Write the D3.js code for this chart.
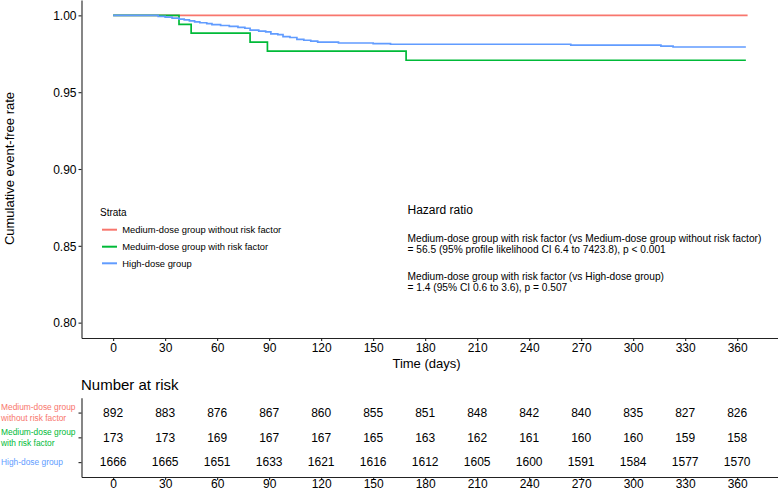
<!DOCTYPE html>
<html>
<head>
<meta charset="utf-8">
<script src="https://cdn.jsdelivr.net/npm/d3@7"></script>
<style>
  html, body { margin: 0; padding: 0; background: #fff; }
  svg { display: block; font-family: "Liberation Sans", Arial, Helvetica, sans-serif; }
</style>
</head>
<body>
<svg id="chart" width="778" height="491"></svg>
<script>
// ---------- DATA ----------
const timeTicks = [0, 30, 60, 90, 120, 150, 180, 210, 240, 270, 300, 330, 360];
const yTicks = [0.80, 0.85, 0.90, 0.95, 1.00];

const strataNames = ["Medium-dose group without risk factor", "Meduim-dose group with risk factor", "High-dose group"];
const strataColors = ["#F8766D", "#00BA38", "#619CFF"];

// Kaplan-Meier step curves (time in days, survival)
const redTimes = [0, 366];
const redSurv = [1.0, 1.0];

const greenTimes = [0, 38, 45, 79, 89, 169, 365];
const greenSurv = [1.0, 0.9942, 0.9884, 0.9826, 0.9767, 0.9708, 0.9708];

const blueTimes = [0, 26, 30, 34, 38, 41, 44, 47, 50, 54, 57, 62, 67, 72, 76, 79, 84, 88, 91, 95, 98, 102, 106, 110, 114, 118, 130, 150, 160, 264, 316, 323, 365];
const blueSurv = [1.0, 0.9994, 0.9988, 0.9982, 0.9976, 0.9970, 0.9964, 0.9958, 0.9952, 0.9946, 0.9940, 0.9934, 0.9928, 0.9922, 0.9916, 0.9904, 0.9898, 0.9892, 0.9880, 0.9874, 0.9862, 0.9856, 0.9844, 0.9838, 0.9832, 0.9826, 0.9820, 0.9816, 0.9812, 0.9806, 0.9800, 0.9794, 0.9794];

// Number at risk
const riskGroups = ["Medium-dose group without risk factor", "Medium-dose group with risk factor", "High-dose group"];
const riskLabelLines = [["Medium-dose group", "without risk factor"], ["Medium-dose group", "with risk factor"], ["High-dose group"]];
const riskMedNoRF = [892, 883, 876, 867, 860, 855, 851, 848, 842, 840, 835, 827, 826];
const riskMedRF = [173, 173, 169, 167, 167, 165, 163, 162, 161, 160, 160, 159, 158];
const riskHigh = [1666, 1665, 1651, 1633, 1621, 1616, 1612, 1605, 1600, 1591, 1584, 1577, 1570];

const hrTitle = "Hazard ratio";
const hrLines1 = ["Medium-dose group with risk factor (vs Medium-dose group without risk factor)", "= 56.5 (95% profile likelihood CI 6.4 to 7423.8), p < 0.001"];
const hrLines2 = ["Medium-dose group with risk factor (vs High-dose group)", "= 1.4 (95% CI 0.6 to 3.6), p = 0.507"];

// ---------- DRAW ----------
const svg = d3.select("#chart");
const axisColor = "#222";

const x = d3.scaleLinear().domain([-18.25, 383.25]).range([81.5, 777.5]);
const y = d3.scaleLinear().domain([0.79, 1.01]).range([338, 0]);

// curves
const curves = [
  {t: redTimes, s: redSurv, c: strataColors[0]},
  {t: greenTimes, s: greenSurv, c: strataColors[1]},
  {t: blueTimes, s: blueSurv, c: strataColors[2]}
];
const line = d3.line().x(d => x(d[0])).y(d => y(d[1])).curve(d3.curveStepAfter);
curves.forEach(cv => {
  const pts = cv.t.map((t, i) => [t, cv.s[i]]);
  svg.append("path").attr("d", line(pts)).attr("fill", "none")
    .attr("stroke", cv.c).attr("stroke-width", 1.7);
});

// main axes
function styleAxis(g, fs) {
  g.selectAll("path.domain").attr("stroke", axisColor).attr("stroke-width", 1.1);
  g.selectAll(".tick line").attr("stroke", axisColor).attr("stroke-width", 1.1);
  g.selectAll(".tick text").attr("fill", "#000").style("font-size", fs + "px");
}
const gy = svg.append("g").attr("transform", "translate(81.5,0)")
  .call(d3.axisLeft(y).tickValues(yTicks).tickFormat(d3.format(".2f")).tickSize(3).tickSizeOuter(0).tickPadding(2));
styleAxis(gy, 12);
gy.selectAll(".tick text").attr("dy", "0.36em");

const gx = svg.append("g").attr("transform", "translate(0,338)")
  .call(d3.axisBottom(x).tickValues(timeTicks).tickSize(3).tickSizeOuter(0).tickPadding(2));
styleAxis(gx, 12);

// axis titles
svg.append("text").attr("transform", "translate(14,168.5) rotate(-90)")
  .attr("text-anchor", "middle").style("font-size", "13px").text("Cumulative event-free rate");
svg.append("text").attr("x", 426.5).attr("y", 367.7)
  .attr("text-anchor", "middle").style("font-size", "13px").text("Time (days)");

// legend
svg.append("text").attr("x", 100).attr("y", 216).style("font-size", "10px").text("Strata");
const legY = [229.7, 246.7, 263.3];
strataNames.forEach((n, i) => {
  svg.append("line").attr("x1", 102).attr("x2", 117).attr("y1", legY[i]).attr("y2", legY[i])
    .attr("stroke", strataColors[i]).attr("stroke-width", 2);
  svg.append("text").attr("x", 122.3).attr("y", legY[i] + 3.4).style("font-size", "9.4px").text(n);
});

// hazard ratio annotation
svg.append("text").attr("x", 407.5).attr("y", 214.3).style("font-size", "12px").text(hrTitle);
const hrY = [242, 252.7, 280.4, 291.4];
hrLines1.concat(hrLines2).forEach((t, i) => {
  svg.append("text").attr("x", 407.5).attr("y", hrY[i]).style("font-size", "10.2px").text(t);
});

// ---------- Number at risk table ----------
svg.append("text").attr("x", 81).attr("y", 390.4).style("font-size", "15px").text("Number at risk");

const yr = d3.scalePoint().domain(riskGroups).range([397.7, 477]).padding(0.6);
const gyr = svg.append("g").attr("transform", "translate(81.5,0)")
  .call(d3.axisLeft(yr).tickFormat("").tickSize(3).tickSizeOuter(0));
styleAxis(gyr, 12);
const gxr = svg.append("g").attr("transform", "translate(0,477)")
  .call(d3.axisBottom(x).tickValues(timeTicks).tickSize(3).tickSizeOuter(0).tickPadding(0));
styleAxis(gxr, 12);
gxr.selectAll(".tick text").attr("y", 2.4);

const riskRows = [riskMedNoRF, riskMedRF, riskHigh];
riskRows.forEach((row, i) => {
  const cy = yr(riskGroups[i]);
  row.forEach((v, j) => {
    svg.append("text").attr("x", x(timeTicks[j])).attr("y", cy).attr("dy", "0.36em")
      .attr("text-anchor", "middle").style("font-size", "12px").text(v);
  });
  const lines = riskLabelLines[i];
  const lh = 10.6;
  lines.forEach((l, k) => {
    const ly = cy + (k - (lines.length - 1) / 2) * lh;
    svg.append("text").attr("x", 1).attr("y", ly).attr("dy", "0.36em")
      .style("font-size", "8.4px").attr("fill", strataColors[i]).text(l);
  });
});
</script>
</body>
</html>
